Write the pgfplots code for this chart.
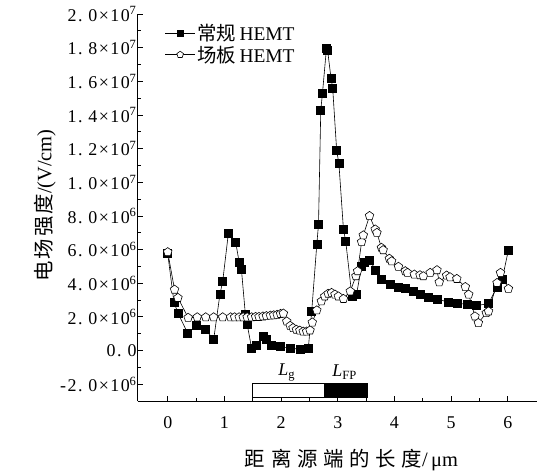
\documentclass[border=0pt]{standalone}
\usepackage{fontspec}
\setmainfont{Liberation Serif}
\newfontfamily\cjk{Noto Sans CJK SC}
\newfontfamily\cjkw{Noto Sans CJK SC}[LetterSpace=28]
\newfontfamily\cjky{Noto Sans CJK SC}[LetterSpace=10]
\newfontfamily\tkfam{Liberation Serif}[LetterSpace=8]
\usepackage{pgfplots}
\pgfplotsset{compat=1.18}
\newcommand{\tf}{\fontsize{18}{20}\tkfam}
\newcommand{\tl}[2]{{\tf #1×10\textsuperscript{#2}}}
\begin{document}
\begin{tikzpicture}
\begin{axis}[
  scale only axis, width=399.6bp, height=387bp,
  xmin=-0.53, xmax=6.52, ymin=-3e6, ymax=2e7,
  axis x line*=bottom, axis y line*=left,
  axis line style={line width=1bp},
  tick align=inside,
  major tick length=5bp, minor tick length=3bp,
  every tick/.style={black, line width=0.8bp},
  xtick={0,1,2,3,4,5,6}, minor x tick num=1,
  xticklabels={{\tf 0},{\tf 1},{\tf 2},{\tf 3},{\tf 4},{\tf 5},{\tf 6}},
  ytick={-2e6,0,2e6,4e6,6e6,8e6,1e7,1.2e7,1.4e7,1.6e7,1.8e7,2e7}, minor y tick num=1,
  scaled y ticks=false,
  yticklabels={\tl{-2.\ 0}{6},{\tf 0.\ 0},\tl{2.\ 0}{6},\tl{4.\ 0}{6},\tl{6.\ 0}{6},\tl{8.\ 0}{6},\tl{1.\ 0}{7},\tl{1.\ 2}{7},\tl{1.\ 4}{7},\tl{1.\ 6}{7},\tl{1.\ 8}{7},\tl{2.\ 0}{7}},
  yticklabel style={inner sep=1bp},
  xticklabel style={yshift=-12bp},
  xlabel={{\cjkw 距离源端的长度}/\,μm},
  ylabel={{\cjky 电场强度}/(V/cm)},
  label style={font=\fontsize{20.5}{22}\selectfont},
  xlabel style={at={(axis description cs:0.535,-0.152)}, anchor=center},
  ylabel style={at={(axis description cs:-0.232,0.505)}, anchor=center},
  legend style={draw=none, fill=none, at={(axis description cs:0.06,0.985)}, anchor=north west,
    row sep=0bp},
  legend cell align=left,
  clip=false,
]
\addplot[black, line width=0.6bp, mark=square*, mark size=4bp, mark options={solid, fill=black},
  legend image code/.code={\draw[black, line width=0.6bp] (0bp,0bp) -- (30bp,0bp); \draw[black, mark=square*, mark size=3bp] plot coordinates {(15bp,0bp)};}] coordinates {
(0.00,5.75e6) (0.11,2.87e6) (0.18,2.23e6) (0.35,1.04e6) (0.51,1.47e6) (0.67,1.24e6) (0.81,0.64e6)
(0.92,3.33e6) (0.97,4.12e6) (1.07,6.97e6) (1.20,6.41e6) (1.26,5.25e6) (1.30,4.82e6) (1.37,2.13e6)
(1.40,1.58e6) (1.48,0.14e6) (1.57,0.34e6) (1.68,0.84e6) (1.74,0.68e6) (1.83,0.34e6) (1.98,0.24e6)
(2.16,0.14e6) (2.33,0.08e6) (2.48,0.14e6) (2.54,2.33e6) (2.63,6.31e6) (2.66,7.5e6) (2.70,14.3e6)
(2.73,15.3e6) (2.80,17.95e6) (2.82,17.85e6) (2.88,16.2e6) (2.91,15.6e6) (2.98,11.9e6) (3.02,11.1e6)
(3.10,7.2e6) (3.14,6.5e6) (3.25,3.22e6) (3.33,3.33e6) (3.42,5.0e6) (3.46,5.25e6) (3.56,5.37e6)
(3.67,4.78e6) (3.77,4.26e6) (3.92,3.92e6) (4.07,3.78e6) (4.19,3.72e6) (4.33,3.52e6) (4.45,3.33e6)
(4.60,3.19e6) (4.75,3.07e6) (4.95,2.87e6) (5.10,2.83e6) (5.28,2.73e6) (5.45,2.67e6) (5.66,2.79e6)
(5.81,3.78e6) (5.90,4.22e6) (6.01,5.97e6)
};
\addlegendentry{\fontsize{19.5}{21}\selectfont{\cjk 常规}\,HEMT}
\addplot[black, line width=0.6bp, mark=pentagon*, mark size=4.5bp, mark options={solid, fill=white},
  legend image code/.code={\draw[black, line width=0.6bp] (0bp,0bp) -- (30bp,0bp); \draw[black, line width=0.6bp, mark=pentagon*, mark size=3.5bp, mark options={fill=white}] plot coordinates {(15bp,0bp)};}] coordinates {
(0.00,5.85e6) (0.12,3.62e6) (0.18,3.13e6) (0.36,1.95e6) (0.52,1.98e6) (0.67,1.98e6) (0.81,1.98e6)
(0.97,1.98e6) (1.11,1.98e6) (1.18,1.98e6) (1.26,1.98e6) (1.33,1.98e6) (1.40,1.98e6) (1.48,1.98e6)
(1.55,2.0e6) (1.61,2.0e6) (1.68,2.03e6) (1.74,2.05e6) (1.81,2.08e6) (1.87,2.1e6) (1.93,2.13e6)
(1.99,2.18e6) (2.04,2.2e6) (2.10,1.73e6) (2.16,1.47e6) (2.21,1.34e6) (2.27,1.24e6) (2.33,1.19e6)
(2.39,1.13e6) (2.45,1.13e6) (2.51,1.20e6) (2.55,1.67e6) (2.63,2.39e6) (2.71,2.93e6) (2.77,3.22e6)
(2.83,3.38e6) (2.89,3.43e6) (2.95,3.33e6) (3.01,3.22e6) (3.10,3.07e6) (3.22,3.52e6) (3.32,4.42e6)
(3.35,4.72e6) (3.42,6.45e6) (3.45,6.85e6) (3.56,8.0e6) (3.66,7.2e6) (3.69,7.0e6) (3.77,6.11e6)
(3.80,5.97e6) (3.91,5.46e6) (3.95,5.31e6) (4.07,4.98e6) (4.19,4.72e6) (4.23,4.62e6) (4.35,4.52e6)
(4.45,4.48e6) (4.51,4.42e6) (4.63,4.62e6) (4.75,4.78e6) (4.79,4.06e6) (4.92,4.46e6) (4.98,4.36e6)
(5.10,4.26e6) (5.25,3.78e6) (5.31,3.33e6) (5.42,2.03e6) (5.48,1.64e6) (5.62,2.23e6) (5.66,2.33e6)
(5.81,4.02e6) (5.87,4.62e6) (6.01,3.67e6)
};
\addlegendentry{\fontsize{19.5}{21}\selectfont{\cjk 场板}\,HEMT}
\draw[line width=0.8bp, fill=white] (axis cs:1.5,-1.93e6) rectangle (axis cs:2.76,-2.78e6);
\draw[line width=0.8bp, fill=black] (axis cs:2.76,-1.93e6) rectangle (axis cs:3.52,-2.78e6);
\node at (axis cs:2.1,-1.3e6) {\fontsize{18}{20}\selectfont\textit{L}\textsubscript{g}};
\node at (axis cs:3.12,-1.3e6) {\fontsize{18}{20}\selectfont\textit{L}\textsubscript{FP}};
\end{axis}
\pgfresetboundingbox
\path (current axis.south west) ++(-137.7bp,-70bp) rectangle ++(548bp,471bp);
\end{tikzpicture}
\end{document}
